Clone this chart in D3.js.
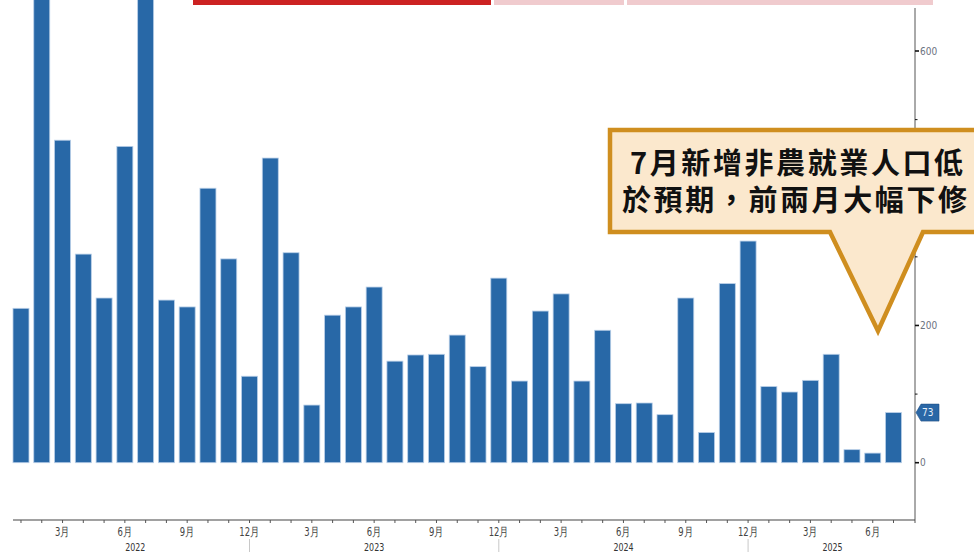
<!DOCTYPE html>
<html>
<head>
<meta charset="utf-8">
<script src="https://cdn.jsdelivr.net/npm/d3@7"></script>
<style>
  html, body { margin: 0; padding: 0; background: #ffffff; }
  svg { display: block; }
  .num { font-family: 'Liberation Sans Narrow', 'DejaVu Sans Condensed', 'Roboto Condensed', sans-serif; font-stretch: condensed; }
</style>
</head>
<body>
<svg id="chart" width="974" height="552"></svg>
<script>
// Monthly change in US nonfarm payrolls (thousands), Jan 2022 – Jul 2025
const months = [
  "2022-01","2022-02","2022-03","2022-04","2022-05","2022-06","2022-07","2022-08","2022-09","2022-10","2022-11","2022-12",
  "2023-01","2023-02","2023-03","2023-04","2023-05","2023-06","2023-07","2023-08","2023-09","2023-10","2023-11","2023-12",
  "2024-01","2024-02","2024-03","2024-04","2024-05","2024-06","2024-07","2024-08","2024-09","2024-10","2024-11","2024-12",
  "2025-01","2025-02","2025-03","2025-04","2025-05","2025-06","2025-07"
];
const payrolls = [
  225, 710, 470, 304, 240, 461, 700, 237, 227, 400, 297, 126,
  444, 306, 84, 215, 227, 256, 148, 157, 158, 186, 140, 269,
  119, 221, 246, 119, 193, 86, 87, 70, 240, 44, 261, 323,
  111, 103, 120, 158, 19, 14, 73
];
const yTicks = [0, 100, 200, 300, 400, 500, 600];
const yMajorTicks = [0, 200, 400, 600];
const yLabelTicks = [0, 200, 600];
const monthLabels = { "03": "3月", "06": "6月", "09": "9月", "12": "12月" };
const years = ["2022", "2023", "2024", "2025"];
const lastValue = payrolls[payrolls.length - 1];
const calloutLines = ["7月新增非農就業人口低", "於預期，前兩月大幅下修"];

const svg = d3.select("#chart");
const W = 974, H = 552;
const axisX = 915, axisY = 520;

const x = d3.scaleBand()
  .domain(months)
  .range([10.6, 903.9])
  .paddingInner(0.23)
  .paddingOuter(0.115);

const y = d3.scaleLinear().domain([0, 600]).range([462.7, 51]);

const plot = svg.append("g");
plot.append("clipPath").attr("id", "plotclip")
  .append("rect").attr("x", 0).attr("y", 0).attr("width", axisX).attr("height", axisY);

// Header tab strips
const tabs = [
  { x0: 193, x1: 491, c: "#cc2222" },
  { x0: 494, x1: 624, c: "#f0cbce" },
  { x0: 627, x1: 933, c: "#f0cbce" }
];
svg.selectAll("rect.tab").data(tabs).join("rect")
  .attr("class", "tab")
  .attr("x", d => d.x0).attr("y", 0)
  .attr("width", d => d.x1 - d.x0).attr("height", 5)
  .attr("fill", d => d.c);

// Bars
plot.append("g").attr("clip-path", "url(#plotclip)")
  .selectAll("rect").data(months).join("rect")
  .attr("x", (m) => x(m))
  .attr("width", x.bandwidth())
  .attr("y", (m, i) => y(Math.max(0, payrolls[i])))
  .attr("height", (m, i) => Math.abs(y(payrolls[i]) - y(0)))
  .attr("fill", "#2868a7")
  .attr("stroke", "#b9cfe8")
  .attr("stroke-width", 0.8);

// Right value axis
svg.append("line")
  .attr("x1", axisX).attr("x2", axisX)
  .attr("y1", 8).attr("y2", axisY + 3)
  .attr("stroke", "#555").attr("stroke-width", 1);

svg.selectAll("line.ytick").data(yTicks).join("line")
  .attr("class", "ytick")
  .attr("x1", axisX).attr("x2", d => yMajorTicks.includes(d) ? axisX + 4 : axisX + 2.5)
  .attr("y1", d => y(d)).attr("y2", d => y(d))
  .attr("stroke", "#111").attr("stroke-width", d => yMajorTicks.includes(d) ? 1.6 : 1);

svg.selectAll("text.ylab").data(yLabelTicks).join("text")
  .attr("class", "ylab num")
  .attr("x", axisX + 5).attr("y", d => y(d))
  .attr("dy", "0.35em")
  .attr("font-size", 10)
  .attr("fill", "#6b7280")
  .text(d => d);

// Last value tag
const tagY = y(lastValue);
svg.append("path")
  .attr("d", `M${axisX + 1},${tagY} L${axisX + 6},${tagY - 8.5} L${axisX + 24},${tagY - 8.5} L${axisX + 24},${tagY + 8.5} L${axisX + 6},${tagY + 8.5} Z`)
  .attr("fill", "#2a67a6")
  .attr("stroke", "#1f4f84").attr("stroke-width", 0.6);
svg.append("text")
  .attr("class", "num")
  .attr("x", axisX + 7).attr("y", tagY).attr("dy", "0.36em")
  .attr("font-size", 10).attr("fill", "#e8f0fa")
  .text(lastValue);

// Time axis
svg.append("line")
  .attr("x1", 13).attr("x2", axisX)
  .attr("y1", axisY).attr("y2", axisY)
  .attr("stroke", "#444").attr("stroke-width", 1.2);

const center = m => x(m) + x.bandwidth() / 2;

svg.selectAll("line.xtick").data(months).join("line")
  .attr("class", "xtick")
  .attr("x1", center).attr("x2", center)
  .attr("y1", axisY).attr("y2", axisY + 3)
  .attr("stroke", "#555").attr("stroke-width", 1);

svg.selectAll("text.mlab").data(months.filter(m => monthLabels[m.slice(5)])).join("text")
  .attr("class", "mlab num")
  .attr("transform", m => `translate(${center(m)},${axisY + 16}) scale(0.78,1)`)
  .attr("text-anchor", "middle")
  .attr("font-size", 12)
  .attr("fill", "#444")
  .text(m => monthLabels[m.slice(5)]);

// Year separators sit at each December tick
const decembers = months.filter(m => m.endsWith("-12"));
svg.selectAll("line.ysep").data(decembers).join("line")
  .attr("class", "ysep")
  .attr("x1", center).attr("x2", center)
  .attr("y1", axisY + 19).attr("y2", H)
  .attr("stroke", "#c8c8c8").attr("stroke-width", 1);

const yearSpan = yr => {
  const inYear = months.filter(m => m.startsWith(yr));
  const prevDec = months.find(m => m === (+yr - 1) + "-12");
  const start = prevDec ? center(prevDec) : center(inYear[0]);
  const lastM = inYear[inYear.length - 1];
  const end = lastM.endsWith("-12") ? center(lastM) : axisX + 2;
  return (start + end) / 2;
};
svg.selectAll("text.yr").data(years).join("text")
  .attr("class", "yr num")
  .attr("transform", yr => `translate(${yearSpan(yr)},${H - 1}) scale(0.8,1)`)
  .attr("text-anchor", "middle")
  .attr("font-size", 11)
  .attr("fill", "#333")
  .text(yr => yr);

// Callout bubble
const box = { x0: 610, y0: 130, x1: 990, y1: 232 };
const ptr = { l: 830, r: 923, tipX: 878, tipY: 331 };
svg.append("path")
  .attr("d", `M${box.x0},${box.y0} L${box.x1},${box.y0} L${box.x1},${box.y1} L${ptr.r},${box.y1} L${ptr.tipX},${ptr.tipY} L${ptr.l},${box.y1} L${box.x0},${box.y1} Z`)
  .attr("fill", "#fbe8cd")
  .attr("stroke", "#cf8e1f")
  .attr("stroke-width", 4.5)
  .attr("stroke-linejoin", "miter");

svg.selectAll("text.callout").data(calloutLines).join("text")
  .attr("class", "callout")
  .attr("x", (d, i) => i === 0 ? 630 : 622)
  .attr("y", (d, i) => 164 + i * 37)
  .attr("dy", "0.35em")
  .attr("font-family", "'Noto Sans CJK TC', 'Noto Sans CJK SC', sans-serif")
  .attr("font-size", 29)
  .attr("font-weight", 700)
  .attr("letter-spacing", 2.6)
  .attr("fill", "#111")
  .text(d => d);
</script>
</body>
</html>
